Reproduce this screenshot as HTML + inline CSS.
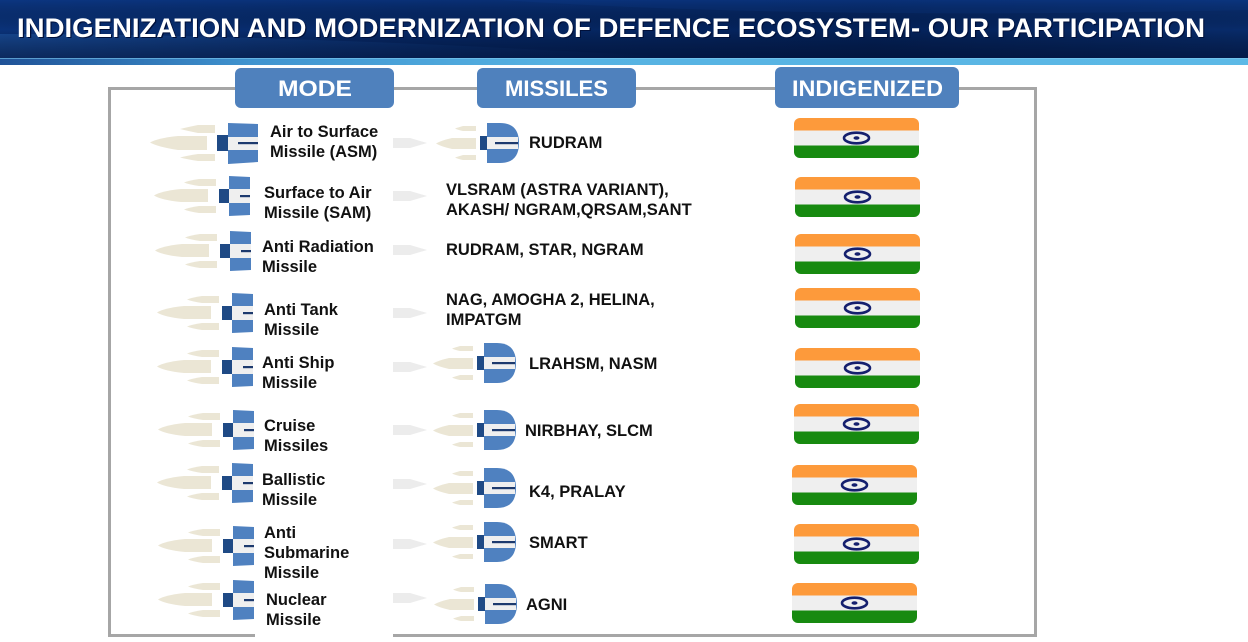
<!DOCTYPE html>
<html>
<head>
<meta charset="utf-8">
<style>
  html,body{margin:0;padding:0;background:#ffffff;}
  body{width:1248px;height:642px;overflow:hidden;}
  svg{display:block;}
  .t{font-family:"Liberation Sans",Arial,sans-serif;font-weight:bold;font-size:16.5px;fill:#111111;}
  .h{font-family:"Liberation Sans",Arial,sans-serif;font-weight:bold;font-size:22px;fill:#ffffff;}
</style>
</head>
<body>
<svg width="1248" height="642" viewBox="0 0 1248 642" xmlns="http://www.w3.org/2000/svg">
  <defs>
    <linearGradient id="hdr" x1="0" y1="0" x2="1" y2="0">
      <stop offset="0" stop-color="#0a3279"/>
      <stop offset="0.35" stop-color="#062866"/>
      <stop offset="0.7" stop-color="#04225a"/>
      <stop offset="1" stop-color="#082b6a"/>
    </linearGradient>
    <linearGradient id="hdrv" x1="0" y1="0" x2="0" y2="1">
      <stop offset="0" stop-color="#0d3a8a" stop-opacity="0.45"/>
      <stop offset="0.5" stop-color="#000000" stop-opacity="0"/>
      <stop offset="1" stop-color="#000a28" stop-opacity="0.5"/>
    </linearGradient>
    <linearGradient id="swoosh" x1="0" y1="0" x2="1" y2="0">
      <stop offset="0" stop-color="#245fae" stop-opacity="0.5"/>
      <stop offset="0.6" stop-color="#1a4f9e" stop-opacity="0.2"/>
      <stop offset="1" stop-color="#1a4f9e" stop-opacity="0"/>
    </linearGradient>
    <linearGradient id="stripe" x1="0" y1="0" x2="1" y2="0">
      <stop offset="0" stop-color="#1f5297"/>
      <stop offset="0.2" stop-color="#3f93cf"/>
      <stop offset="0.45" stop-color="#56b2e2"/>
      <stop offset="1" stop-color="#5cb9e6"/>
    </linearGradient>

    <g id="L">
      <path d="M-13,-17 L-30,-17 Q-40,-15.5 -45,-13.5 Q-40,-11.5 -30,-10 L-13,-10 Z" fill="#ebe6d5"/>
      <path d="M-21,-7 L-48,-7 Q-68,-5 -75,-0.5 Q-68,4 -48,6 L-21,6 Z" fill="#ebe6d5"/>
      <path d="M-13,10 L-30,10 Q-40,11.5 -45,13.5 Q-40,15.5 -30,17 L-13,17 Z" fill="#ebe6d5"/>
      <rect x="-10" y="-7" width="10" height="14" fill="#1f4a85"/>
      <polygon points="0,-20 21,-19 21,-7 0,-7" fill="#4f81c0"/>
      <rect x="0" y="-7" width="21" height="14" fill="#efefef"/>
      <rect x="11" y="-1" width="10" height="2.2" fill="#1d3a6e"/>
      <polygon points="0,7 21,7 21,19 0,20" fill="#4f81c0"/>
    </g>

    <g id="M">
      <path d="M-11,-17 L-24,-17 Q-29,-15.5 -32,-14.5 Q-29,-13 -24,-12 L-11,-12 Z" fill="#ebe6d5"/>
      <path d="M-11,-5 L-35,-5 Q-46,-2.5 -51,0.5 Q-46,3.5 -35,6 L-11,6 Z" fill="#ebe6d5"/>
      <path d="M-11,12 L-24,12 Q-29,13.5 -32,14.5 Q-29,16 -24,17 L-11,17 Z" fill="#ebe6d5"/>
      <rect x="-7" y="-7" width="7" height="14" fill="#1f4a85"/>
      <path d="M0,-20 L13,-20 Q32,-20 32,0 Q32,20 13,20 L0,20 Z" fill="#4f81c0"/>
      <rect x="0" y="-6" width="31" height="12" fill="#efefef"/>
      <rect x="8" y="-1" width="23" height="2.2" fill="#1d3a6e"/>
    </g>

    <clipPath id="fc"><rect x="0" y="0" width="125" height="40" rx="6" ry="6"/></clipPath>
    <g id="F">
      <g clip-path="url(#fc)">
        <rect x="0" y="0" width="125" height="12.5" fill="#fd9a3b"/>
        <rect x="0" y="12.5" width="125" height="15" fill="#efefef"/>
        <rect x="0" y="27.5" width="125" height="12.5" fill="#178a10"/>
      </g>
      <ellipse cx="62.5" cy="20" rx="12.5" ry="5.3" fill="none" stroke="#15206e" stroke-width="2.6"/>
      <ellipse cx="62.5" cy="20" rx="3" ry="1.8" fill="#15206e"/>
    </g>

    <path id="A" d="M0,-5 L17,-5 L34,0 L17,5 L0,5 Z" fill="#ececec"/>
  </defs>

  <!-- Header -->
  <rect x="0" y="0" width="1248" height="59" fill="url(#hdr)"/>
  <path d="M0,34 Q300,34 700,59 L0,59 Z" fill="url(#swoosh)"/>
  <path d="M500,0 Q800,20 1248,10 L1248,0 Z" fill="#0e3c8c" opacity="0.3"/>
  <rect x="0" y="0" width="1248" height="59" fill="url(#hdrv)"/>
  <rect x="0" y="58" width="1248" height="7" fill="url(#stripe)"/>
  <rect x="0" y="58" width="1248" height="1" fill="#7fcaf0" opacity="0.6"/>
  <text x="18.2" y="38.2" font-family="Liberation Sans, Arial, sans-serif" font-weight="bold" font-size="27" fill="#00103a" textLength="1188" lengthAdjust="spacingAndGlyphs">INDIGENIZATION AND MODERNIZATION OF DEFENCE ECOSYSTEM- OUR PARTICIPATION</text>
  <text x="17" y="37" font-family="Liberation Sans, Arial, sans-serif" font-weight="bold" font-size="27" fill="#ffffff" textLength="1188" lengthAdjust="spacingAndGlyphs">INDIGENIZATION AND MODERNIZATION OF DEFENCE ECOSYSTEM- OUR PARTICIPATION</text>

  <!-- Content box -->
  <rect x="109.5" y="88.5" width="926" height="547" fill="none" stroke="#a6a6a6" stroke-width="3"/>
  <rect x="255" y="631" width="138" height="8" fill="#ffffff"/>

  <!-- Column header labels -->
  <rect x="235" y="68" width="159" height="40" rx="6" ry="6" fill="#4f81bd"/>
  <rect x="477" y="68" width="159" height="40" rx="6" ry="6" fill="#4f81bd"/>
  <rect x="775" y="67" width="184" height="41" rx="6" ry="6" fill="#4f81bd"/>
  <text class="h" x="278" y="96" textLength="74" lengthAdjust="spacingAndGlyphs">MODE</text>
  <text class="h" x="505" y="96" textLength="103" lengthAdjust="spacingAndGlyphs">MISSILES</text>
  <text class="h" x="792" y="96" textLength="151" lengthAdjust="spacingAndGlyphs">INDIGENIZED</text>

  <!-- Gray arrows between columns -->
  <use href="#A" x="393" y="143"/>
  <use href="#A" x="393" y="196"/>
  <use href="#A" x="393" y="250"/>
  <use href="#A" x="393" y="313"/>
  <use href="#A" x="393" y="367"/>
  <use href="#A" x="393" y="430"/>
  <use href="#A" x="393" y="484"/>
  <use href="#A" x="393" y="544"/>
  <use href="#A" x="393" y="598"/>

  <!-- Row 1 left icon (larger) -->
  <g transform="translate(228,143)">
    <path d="M-13,-18 L-30,-18 Q-40,-16 -48,-14 Q-40,-12 -30,-10 L-13,-10 Z" fill="#ebe6d5"/>
    <path d="M-21,-7 L-50,-7 Q-70,-5 -78,-0.5 Q-70,4 -50,7 L-21,7 Z" fill="#ebe6d5"/>
    <path d="M-13,11 L-30,11 Q-40,12.5 -48,14.5 Q-40,16.5 -30,18 L-13,18 Z" fill="#ebe6d5"/>
    <rect x="-11" y="-8" width="11" height="16" fill="#1f4a85"/>
    <polygon points="0,-20 30,-19 30,-6 0,-6" fill="#4f81c0"/>
    <rect x="0" y="-6" width="30" height="13" fill="#efefef"/>
    <rect x="10" y="-1" width="20" height="2.2" fill="#1d3a6e"/>
    <polygon points="0,7 30,7 30,19 0,21" fill="#4f81c0"/>
  </g>
  <use href="#L" x="229" y="196"/>
  <use href="#L" x="230" y="251"/>
  <use href="#L" x="232" y="313"/>
  <use href="#L" x="232" y="367"/>
  <use href="#L" x="233" y="430"/>
  <use href="#L" x="232" y="483"/>
  <use href="#L" x="233" y="546"/>
  <use href="#L" x="233" y="600"/>

  <!-- Middle icons -->
  <use href="#M" x="487" y="143"/>
  <use href="#M" x="484" y="363"/>
  <use href="#M" x="484" y="430"/>
  <use href="#M" x="484" y="488"/>
  <use href="#M" x="484" y="542"/>
  <use href="#M" x="485" y="604"/>

  <!-- Left text -->
  <text class="t" x="270" y="137">Air to Surface</text>
  <text class="t" x="270" y="157">Missile (ASM)</text>
  <text class="t" x="264" y="198">Surface to Air</text>
  <text class="t" x="264" y="218">Missile (SAM)</text>
  <text class="t" x="262" y="252">Anti Radiation</text>
  <text class="t" x="262" y="272">Missile</text>
  <text class="t" x="264" y="315">Anti Tank</text>
  <text class="t" x="264" y="335">Missile</text>
  <text class="t" x="262" y="368">Anti Ship</text>
  <text class="t" x="262" y="388">Missile</text>
  <text class="t" x="264" y="431">Cruise</text>
  <text class="t" x="264" y="451">Missiles</text>
  <text class="t" x="262" y="485">Ballistic</text>
  <text class="t" x="262" y="505">Missile</text>
  <text class="t" x="264" y="538">Anti</text>
  <text class="t" x="264" y="558">Submarine</text>
  <text class="t" x="264" y="578">Missile</text>
  <text class="t" x="266" y="605">Nuclear</text>
  <text class="t" x="266" y="625">Missile</text>

  <!-- Middle text -->
  <text class="t" x="529" y="148">RUDRAM</text>
  <text class="t" x="446" y="195">VLSRAM (ASTRA VARIANT),</text>
  <text class="t" x="446" y="215">AKASH/ NGRAM,QRSAM,SANT</text>
  <text class="t" x="446" y="255">RUDRAM, STAR, NGRAM</text>
  <text class="t" x="446" y="305">NAG, AMOGHA 2, HELINA,</text>
  <text class="t" x="446" y="325">IMPATGM</text>
  <text class="t" x="529" y="369">LRAHSM, NASM</text>
  <text class="t" x="525" y="436">NIRBHAY, SLCM</text>
  <text class="t" x="529" y="497">K4, PRALAY</text>
  <text class="t" x="529" y="548">SMART</text>
  <text class="t" x="526" y="610">AGNI</text>

  <!-- Flags -->
  <use href="#F" x="794" y="118"/>
  <use href="#F" x="795" y="177"/>
  <use href="#F" x="795" y="234"/>
  <use href="#F" x="795" y="288"/>
  <use href="#F" x="795" y="348"/>
  <use href="#F" x="794" y="404"/>
  <use href="#F" x="792" y="465"/>
  <use href="#F" x="794" y="524"/>
  <use href="#F" x="792" y="583"/>
</svg>
</body>
</html>
